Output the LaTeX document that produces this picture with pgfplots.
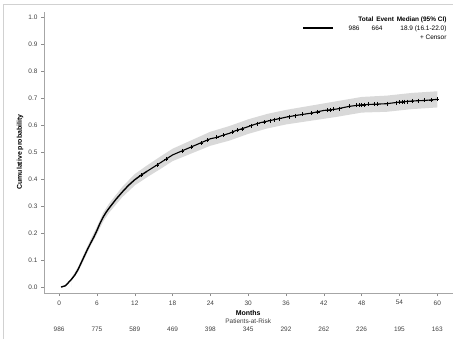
\documentclass[border=0pt]{standalone}
\usepackage{fontspec}
\setmainfont{Liberation Sans}
\usepackage{pgfplots}
\pgfplotsset{compat=1.18}
\begin{document}
\begin{tikzpicture}[x=1bp,y=1bp,font=\fontsize{6.5}{7.5}\selectfont]
\path[use as bounding box] (0,0) rectangle (453,339);
\draw[black!18,line width=0.8bp] (3,0) -- (3,334.5) -- (453,334.5);
\begin{axis}[
  at={(44bp,46bp)}, anchor=south west,
  scale only axis, width=409bp, height=281bp,
  xmin=-2.4, xmax=62.5, ymin=-0.022, ymax=1.02,
  axis x line=bottom, axis y line=left,
  axis line style={-, black!35, line width=0.6bp},
  tick style={black!45, line width=0.5bp},
  tick align=outside, major tick length=3bp,
  xtick={0,6,...,60},
  ytick={0,0.1,...,1.0},
  yticklabel style={/pgf/number format/fixed,/pgf/number format/fixed zerofill,/pgf/number format/precision=1},
  /pgf/number format/assume math mode=true,
  tick label style={black!75, font=\fontsize{6.5}{7.5}\selectfont},
  xticklabel style={yshift=-1bp},
  clip=false,
]
% confidence band
\addplot[fill=black!15, draw=none] coordinates {
(2,0.036) (3,0.074) (4,0.126) (5,0.177) (6,0.224) (7,0.276) (8,0.312) (10,0.371) (12,0.419)
(14,0.452) (16,0.483) (18,0.513) (20,0.534) (22,0.555) (24,0.576) (27,0.597) (30,0.622)
(33,0.642) (36,0.657) (40,0.673) (44,0.689) (48,0.705) (52,0.71) (56,0.72) (60,0.726)
(60,0.666) (56,0.66) (52,0.65) (48,0.647) (44,0.631) (40,0.617) (36,0.603) (33,0.588)
(30,0.568) (27,0.543) (24,0.524) (22,0.505) (20,0.486) (18,0.467) (16,0.437) (14,0.408)
(12,0.377) (10,0.333) (8,0.278) (7,0.244) (6,0.196) (5,0.153) (4,0.104) (3,0.056) (2,0.024)
} \closedcycle;
% cumulative incidence curve (early part)
\addplot[black, line width=1.4bp] coordinates {
(0.3,0) (0.6,0.002) (1.0,0.005) (1.3,0.012) (1.6,0.02) (2.0,0.03) (2.5,0.045) (3.0,0.065)
(3.5,0.09) (4.0,0.115) (4.5,0.14) (5.0,0.163) (5.5,0.185) (6.0,0.21) (6.5,0.237) (7.0,0.26)
(7.5,0.279) (8.0,0.295) (9.0,0.325) (10.0,0.352) (11.0,0.377) (12.0,0.398) (13.0,0.415)
(14.0,0.43)
};
% cumulative incidence curve (later part)
\addplot[black, line width=1.1bp] coordinates {
(14.0,0.43) (15.0,0.445) (16.0,0.46) (17.0,0.475) (18.0,0.49) (19.0,0.50) (20.0,0.51)
(21.0,0.52) (22.0,0.53) (23.0,0.54) (24.0,0.55) (25.0,0.555) (26.0,0.563) (27.0,0.57)
(28.0,0.58) (29.0,0.587) (30.0,0.595) (31.0,0.603) (32.0,0.61) (33.0,0.615) (34.0,0.62)
(35.0,0.625) (36.0,0.63) (38.0,0.638) (40.0,0.645) (42.0,0.655) (44.0,0.66) (46.0,0.67)
(48.0,0.676) (50.0,0.678) (52.0,0.68) (54.0,0.686) (56.0,0.69) (58.0,0.692) (60.0,0.696)
};
% censor marks
\addplot[only marks, mark=+, mark size=2bp, black, mark options={line width=0.45bp}] coordinates {
(13,0.415) (15.5,0.452) (17,0.475) (19.5,0.505) (21,0.52) (22.5,0.535) (23.5,0.545) (25,0.555)
(26,0.563) (27.5,0.575) (28.3,0.582) (29,0.587) (30.5,0.599) (31.5,0.606) (32.5,0.612)
(33.5,0.617) (34.2,0.621) (35,0.625) (36.5,0.632) (37.5,0.636) (38.5,0.64) (40,0.645)
(41,0.65) (42.5,0.656) (43,0.657) (43.5,0.659) (44.5,0.662) (46,0.67) (47.2,0.674)
(47.6,0.675) (48,0.676) (48.4,0.676) (49,0.677) (50,0.678) (50.5,0.679) (52,0.68)
(53.5,0.684) (54,0.686) (54.4,0.687) (54.8,0.688) (55.2,0.688) (56,0.69) (57,0.691)
(58,0.692) (59,0.694) (60,0.696)
};
% labels below
\node[font=\fontsize{7}{8}\selectfont\bfseries] at (axis cs:30,-0.098) {Months};
\node[black!75] at (axis cs:30,-0.127) {Patients-at-Risk};
\node[black!75] at (axis cs:0,-0.158) {986};
\node[black!75] at (axis cs:6,-0.158) {775};
\node[black!75] at (axis cs:12,-0.158) {589};
\node[black!75] at (axis cs:18,-0.158) {469};
\node[black!75] at (axis cs:24,-0.158) {398};
\node[black!75] at (axis cs:30,-0.158) {345};
\node[black!75] at (axis cs:36,-0.158) {292};
\node[black!75] at (axis cs:42,-0.158) {262};
\node[black!75] at (axis cs:48,-0.158) {226};
\node[black!75] at (axis cs:54,-0.158) {195};
\node[black!75] at (axis cs:60,-0.158) {163};
\end{axis}
% y label
\node[rotate=90, font=\fontsize{7}{8}\selectfont\bfseries] at (20,187) {Cumulative probability};
% legend
\node[anchor=east, font=\fontsize{6.5}{7.5}\selectfont\bfseries] at (450,319) {Total\, Event\, Median (95\% CI)};
\draw[black, line width=1.3bp] (303,311) -- (333,311);
\node[anchor=base east] at (363,309) {986};
\node[anchor=base east] at (386,309) {664};
\node[anchor=base east] at (450,309) {18.9 (16.1-22.0)};
\node[anchor=base east] at (450,300) {+ Censor};
\end{tikzpicture}
\end{document}
